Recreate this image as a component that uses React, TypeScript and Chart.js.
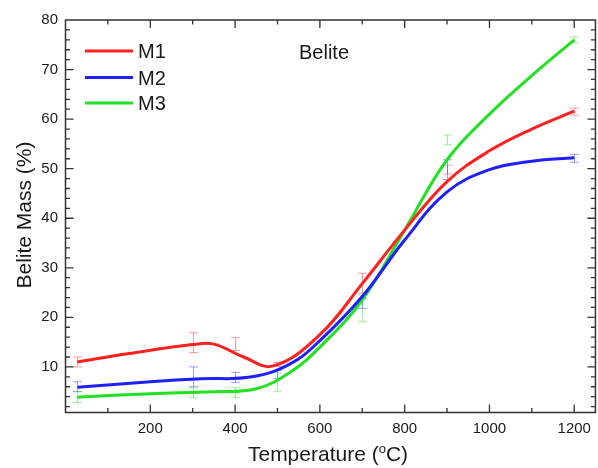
import { useEffect, useRef } from "react";
import { Chart, registerables } from "chart.js";
Chart.register(...registerables);

const SERIES_NAMES = ["M1", "M2", "M3"];
const SERIES_COLORS = ["#ff2020", "#1f1fff", "#22e022"];
const ERR_COLORS = ["rgba(255,40,40,0.45)", "rgba(40,40,255,0.45)", "rgba(30,220,30,0.45)"];

// smoothed curves
const M1_CURVE_X = [28, 150, 300, 350, 420, 490, 600, 700, 800, 900, 1000, 1100, 1200];
const M1_CURVE = [11.0, 12.7, 14.5, 14.6, 12.0, 10.2, 16.5, 26.8, 37.6, 47.4, 53.6, 58.0, 61.6];
const M2_CURVE_X = [28, 200, 320, 440, 530, 600, 700, 800, 900, 1000, 1100, 1200];
const M2_CURVE = [5.9, 7.0, 7.6, 8.0, 10.6, 15.3, 24.2, 35.6, 45.3, 49.8, 51.5, 52.2];
const M3_CURVE_X = [28, 200, 350, 450, 530, 600, 700, 800, 900, 1000, 1100, 1200];
const M3_CURVE = [3.9, 4.6, 5.0, 5.6, 8.9, 14.0, 23.5, 37.6, 51.8, 61.0, 68.8, 76.0];

// measured points with error bars
const ERR_X = [28, 300, 400, 500, 700, 900, 1200];
const M1_MEAN = [11.0, 14.9, 14.6, 10.5, 26.9, 49.8, 61.5];
const M1_ERR = [1.0, 2.0, 1.3, 0.4, 2.0, 0.9, 0.7];
const M2_MEAN = [6.0, 8.0, 7.9, 8.5, 22.8, 49.8, 52.1];
const M2_ERR = [1.0, 2.0, 1.0, 0.8, 1.0, 2.0, 0.8];
const M3_MEAN = [3.9, 4.8, 4.8, 6.9, 21.8, 55.8, 76.0];
const M3_ERR = [1.1, 1.0, 1.0, 1.9, 2.7, 1.0, 0.6];

const X_TICKS = [200, 400, 600, 800, 1000, 1200];
const Y_TICKS = [10, 20, 30, 40, 50, 60, 70, 80];
const X_MINOR_STEP = 100;
const Y_MINOR_STEP = 2;

const CURVE_XS = [M1_CURVE_X, M2_CURVE_X, M3_CURVE_X];
const CURVES = [M1_CURVE, M2_CURVE, M3_CURVE];
const MEANS = [M1_MEAN, M2_MEAN, M3_MEAN];
const ERRS = [M1_ERR, M2_ERR, M3_ERR];

const FONT = "'Liberation Sans', Arial, sans-serif";
const AXIS_COLOR = "#333";

const decorPlugin = {
  id: "decor",
  beforeDatasetsDraw(chart: any) {
    const { ctx } = chart;
    const x = chart.scales.x;
    const y = chart.scales.y;
    ctx.save();
    ctx.lineWidth = 1;
    MEANS.forEach((mean, s) => {
      ctx.strokeStyle = ERR_COLORS[s];
      mean.forEach((m, i) => {
        const px = Math.round(x.getPixelForValue(ERR_X[i])) + 0.5;
        const top = y.getPixelForValue(m + ERRS[s][i]);
        const bot = y.getPixelForValue(m - ERRS[s][i]);
        ctx.beginPath();
        ctx.moveTo(px, top);
        ctx.lineTo(px, bot);
        ctx.moveTo(px - 4.5, top);
        ctx.lineTo(px + 4.5, top);
        ctx.moveTo(px - 4.5, bot);
        ctx.lineTo(px + 4.5, bot);
        ctx.stroke();
      });
    });
    ctx.restore();
  },
  afterDraw(chart: any) {
    const { ctx, chartArea } = chart;
    const x = chart.scales.x;
    const y = chart.scales.y;
    const { left, right, top, bottom } = chartArea;
    ctx.save();
    ctx.strokeStyle = AXIS_COLOR;
    ctx.lineWidth = 1.5;
    ctx.strokeRect(left, top, right - left, bottom - top);
    ctx.lineWidth = 1.3;
    const MAJ = 8;
    const MIN = 4.5;
    ctx.beginPath();
    for (let v = Math.ceil(x.min / X_MINOR_STEP) * X_MINOR_STEP; v <= x.max; v += X_MINOR_STEP) {
      if (v <= x.min) continue;
      const len = X_TICKS.includes(v) ? MAJ : MIN;
      const px = x.getPixelForValue(v);
      ctx.moveTo(px, bottom);
      ctx.lineTo(px, bottom - len);
      ctx.moveTo(px, top);
      ctx.lineTo(px, top + len);
    }
    for (let v = Math.ceil(y.min / Y_MINOR_STEP) * Y_MINOR_STEP; v < y.max; v += Y_MINOR_STEP) {
      const len = Y_TICKS.includes(v) ? MAJ : MIN;
      const py = y.getPixelForValue(v);
      ctx.moveTo(left, py);
      ctx.lineTo(left + len, py);
      ctx.moveTo(right, py);
      ctx.lineTo(right - len, py);
    }
    ctx.stroke();

    // legend
    ctx.lineWidth = 3;
    ctx.font = `20px ${FONT}`;
    ctx.textBaseline = "middle";
    ctx.textAlign = "left";
    const legY = [51, 77.5, 103];
    SERIES_NAMES.forEach((name, i) => {
      ctx.strokeStyle = SERIES_COLORS[i];
      ctx.beginPath();
      ctx.moveTo(85, legY[i]);
      ctx.lineTo(133, legY[i]);
      ctx.stroke();
      ctx.fillStyle = "#1a1a1a";
      ctx.fillText(name, 138, legY[i] + 1.5);
    });
    ctx.fillText("Belite", 299, 53.5);

    // x title with superscript
    ctx.textBaseline = "alphabetic";
    const big = `21px ${FONT}`;
    const small = `13px ${FONT}`;
    const p1 = "Temperature (";
    const p2 = "o";
    const p3 = "C)";
    ctx.font = big;
    const w1 = ctx.measureText(p1).width;
    const w3 = ctx.measureText(p3).width;
    ctx.font = small;
    const w2 = ctx.measureText(p2).width;
    const total = w1 + w2 + w3;
    let sx = 328 - total / 2;
    const base = 461;
    ctx.font = big;
    ctx.fillText(p1, sx, base);
    sx += w1;
    ctx.font = small;
    ctx.fillText(p2, sx, base - 8);
    sx += w2;
    ctx.font = big;
    ctx.fillText(p3, sx, base);

    // y title
    ctx.save();
    ctx.translate(31, 215);
    ctx.rotate(-Math.PI / 2);
    ctx.font = `21px ${FONT}`;
    ctx.textAlign = "center";
    ctx.fillText("Belite Mass (%)", 0, 0);
    ctx.restore();
    ctx.restore();
  },
};

export default function App() {
  const ref = useRef<HTMLCanvasElement>(null);
  useEffect(() => {
    document.body.style.margin = "0";
    const canvas = ref.current;
    if (!canvas) return;
    const chart = new Chart(canvas, {
      type: "line",
      data: {
        datasets: SERIES_NAMES.map((name, s) => ({
          label: name,
          data: CURVE_XS[s].map((xv, i) => ({ x: xv, y: CURVES[s][i] })),
          borderColor: SERIES_COLORS[s],
          backgroundColor: SERIES_COLORS[s],
          borderWidth: 3,
          pointRadius: 0,
          fill: false,
          tension: 0.4,
        })),
      },
      options: {
        animation: false,
        responsive: false,
        devicePixelRatio: 1,
        layout: { padding: { top: 20, right: 2, left: 0, bottom: 0 } },
        plugins: { legend: { display: false }, tooltip: { enabled: false } },
        scales: {
          x: {
            type: "linear",
            min: 0,
            max: 1250,
            grid: { display: false, drawTicks: false },
            border: { display: false },
            ticks: {
              autoSkip: false,
              maxRotation: 0,
              padding: 7,
              color: "#1a1a1a",
              font: { family: FONT, size: 15 },
              callback: (v: any) => String(v),
            },
            afterBuildTicks: (s: any) => {
              s.ticks = X_TICKS.map((v) => ({ value: v }));
            },
            afterFit: (s: any) => {
              s.height = 55.5;
            },
          },
          y: {
            type: "linear",
            min: 0.8,
            max: 80,
            grid: { display: false, drawTicks: false },
            border: { display: false },
            ticks: {
              autoSkip: false,
              padding: 7.5,
              color: "#1a1a1a",
              font: { family: FONT, size: 15 },
              callback: (v: any) => String(v),
            },
            afterBuildTicks: (s: any) => {
              s.ticks = Y_TICKS.map((v) => ({ value: v }));
            },
            afterFit: (s: any) => {
              s.width = 65.5;
            },
          },
        },
      },
      plugins: [decorPlugin],
    });
    return () => chart.destroy();
  }, []);
  return (
    <div style={{ width: 598, height: 468 }}>
      <canvas ref={ref} width={598} height={468} style={{ display: "block" }} />
    </div>
  );
}
